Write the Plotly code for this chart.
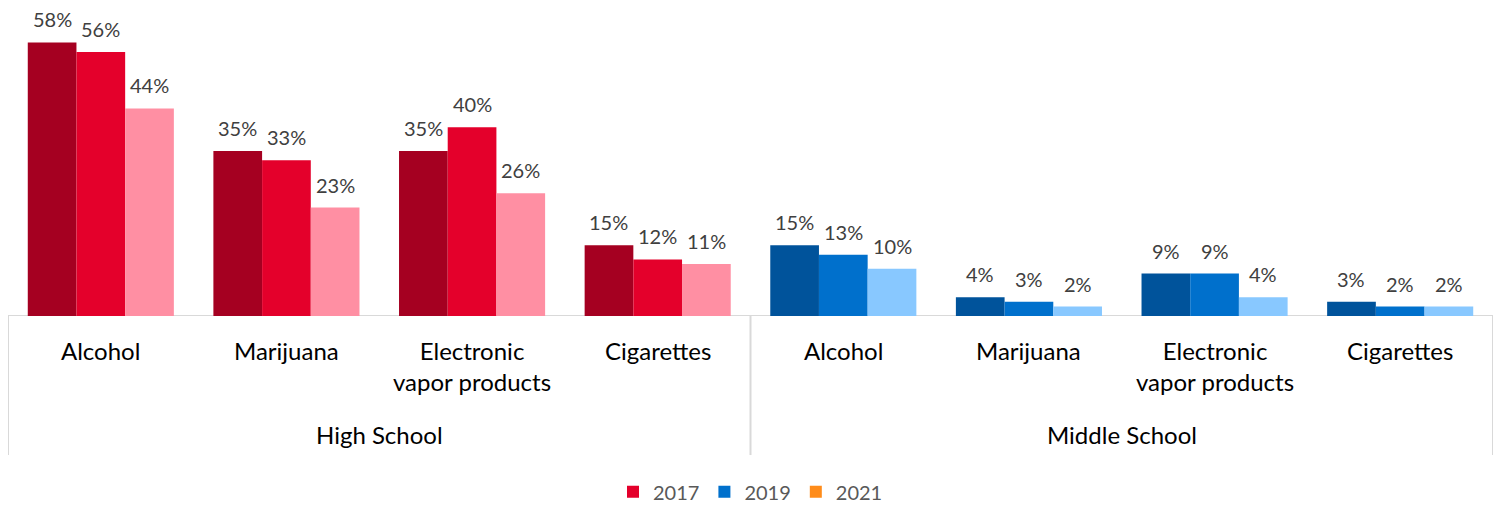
import plotly.graph_objects as go

schools = ["High School", "Middle School"]
substances = ["Alcohol", "Marijuana", "Electronic<br>vapor products", "Cigarettes"]
years = ["2017", "2019", "2021"]

# Percent of students reporting use, by school level then substance
hs_2017 = [58, 35, 35, 15]
hs_2019 = [56, 33, 40, 12]
hs_2021 = [44, 23, 26, 11]
ms_2017 = [15, 4, 9, 3]
ms_2019 = [13, 3, 9, 2]
ms_2021 = [10, 2, 4, 2]

values = {
    "2017": hs_2017 + ms_2017,
    "2019": hs_2019 + ms_2019,
    "2021": hs_2021 + ms_2021,
}

hs_colors = {"2017": "#A50021", "2019": "#E4002B", "2021": "#FF8FA3"}
ms_colors = {"2017": "#00539B", "2019": "#0070CC", "2021": "#88C8FF"}
legend_colors = {"2017": "#E4002B", "2019": "#0070CC", "2021": "#FF8C1A"}

FONT = "Lato, 'Open Sans', sans-serif"
BARGAP = 0.213
n_groups = len(schools) * len(substances)
centers = [i + 0.5 for i in range(n_groups)]
bar_w = (1 - BARGAP) / len(years)

fig = go.Figure()
for k, yr in enumerate(years):
    cols = [hs_colors[yr]] * len(substances) + [ms_colors[yr]] * len(substances)
    fig.add_trace(go.Bar(
        x=centers, y=values[yr], name=yr, showlegend=False,
        marker=dict(color=cols, line=dict(width=0)),
    ))
    # value labels above each bar
    off = (k - (len(years) - 1) / 2) * bar_w
    for c, v in zip(centers, values[yr]):
        fig.add_annotation(x=c + off, xref="x", y=v, yref="y", yanchor="middle",
                           yshift=23, text=f"{v}%", showarrow=False,
                           font=dict(family=FONT, size=20, color="#404040"))

# legend-only entries
for yr in years:
    fig.add_trace(go.Scatter(
        x=[None], y=[None], mode="markers", name=yr,
        marker=dict(symbol="square", size=12, color=legend_colors[yr]),
    ))

# substance labels
for i, c in enumerate(centers):
    lab = substances[i % len(substances)]
    fig.add_annotation(x=c, xref="x", y=0, yref="paper", yanchor="top",
                       yshift=-18, text=lab, showarrow=False, align="center",
                       font=dict(family=FONT, size=24, color="#000000"))

# school labels
for j, s in enumerate(schools):
    fig.add_annotation(x=len(substances) * (j + 0.5), xref="x", y=0, yref="paper",
                       yanchor="top", yshift=-102, text=s, showarrow=False,
                       font=dict(family=FONT, size=24, color="#000000"))

# axis baseline and group separators
line_style = dict(color="#D9D9D9", width=2)
fig.add_shape(type="line", x0=0, x1=n_groups, xref="x", y0=0, y1=0, yref="y",
              line=line_style, layer="below")
for xb in [0, len(substances), n_groups]:
    fig.add_shape(type="line", x0=xb, x1=xb, xref="x", y0=0, y1=-0.44, yref="paper",
                  line=line_style)

fig.update_layout(
    width=1501, height=505,
    margin=dict(l=8, r=8, t=0, b=189, autoexpand=False),
    paper_bgcolor="white", plot_bgcolor="white",
    barmode="group", bargap=BARGAP, bargroupgap=0,
    xaxis=dict(range=[0, n_groups], showticklabels=False, showgrid=False,
               zeroline=False, showline=False, ticks=""),
    yaxis=dict(range=[0, 67], visible=False),
    legend=dict(orientation="h", x=0.5, xanchor="center",
                yref="container", y=0.026, yanchor="middle",
                font=dict(family=FONT, size=20, color="#595959"),
                itemwidth=30, tracegroupgap=0),
    showlegend=True,
)

fig.write_html("out.html")
